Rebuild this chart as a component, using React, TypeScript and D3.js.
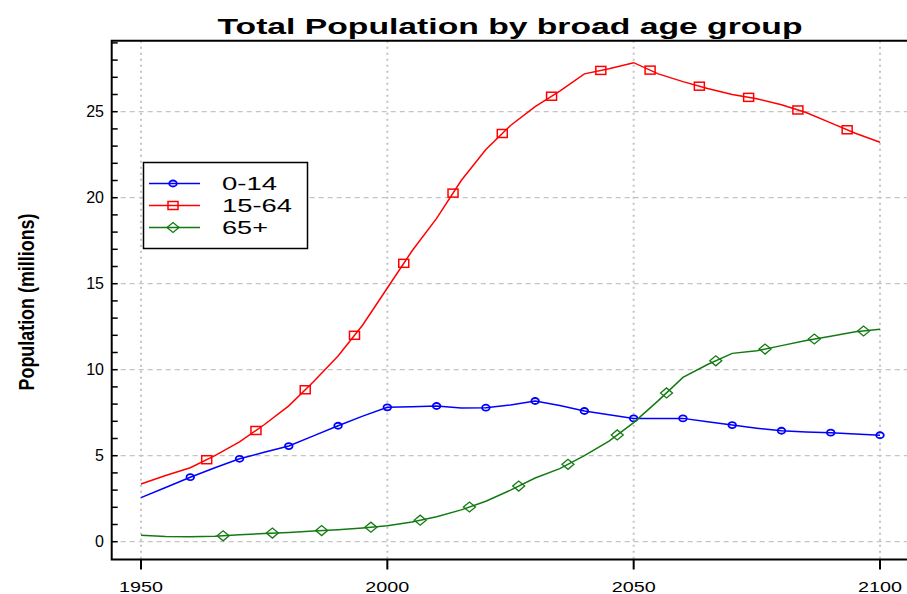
import React from "react";
import * as d3 from "d3";

// population (millions), UN style projections at 5 year steps
const years = [
  1950, 1955, 1960, 1965, 1970, 1975, 1980, 1985, 1990, 1995, 2000, 2005, 2010,
  2015, 2020, 2025, 2030, 2035, 2040, 2045, 2050, 2055, 2060, 2065, 2070, 2075,
  2080, 2085, 2090, 2095, 2100,
];
const age0to14 = [
  2.56, 3.15, 3.75, 4.3, 4.82, 5.2, 5.56, 6.15, 6.74, 7.3, 7.81, 7.85, 7.89,
  7.78, 7.79, 7.95, 8.18, 7.92, 7.6, 7.38, 7.17, 7.17, 7.17, 6.98, 6.78, 6.6,
  6.45, 6.38, 6.34, 6.26, 6.19,
];
const age15to64 = [
  3.35, 3.85, 4.3, 5.0, 5.8, 6.8, 7.9, 9.3, 10.8, 12.6, 14.75, 16.9, 18.8,
  21.0, 22.8, 24.2, 25.3, 26.2, 27.2, 27.5, 27.85, 27.2, 26.75, 26.35, 26.0,
  25.75, 25.4, 24.95, 24.35, 23.75, 23.22,
];
const age65plus = [
  0.37, 0.3, 0.29, 0.31, 0.4, 0.48, 0.54, 0.62, 0.7, 0.8, 0.93, 1.15, 1.45,
  1.85, 2.35, 3.0, 3.7, 4.25, 5.0, 5.85, 6.92, 8.2, 9.55, 10.3, 10.95, 11.1,
  11.4, 11.7, 11.95, 12.2, 12.35,
];

const seriesNames = ["0-14", "15-64", "65+"];
const seriesColors = ["#0000ff", "#ff0000", "#137a13"];
const markerOffsets = [0, 10 / 3, 20 / 3]; // symbols staggered along each line

const xTicks = [1950, 2000, 2050, 2100];
const yTicks = [0, 5, 10, 15, 20, 25];

const W = 907;
const H = 594;
const box = { left: 111.7, top: 40.7, bottom: 559.5 };

const x = d3.scaleLinear().domain([1950, 2100]).range([141, 880]);
const y = d3.scaleLinear().domain([0, 25]).range([541.7, 111.7]);

const FONT = "'Liberation Sans', Arial, sans-serif";

function Marker({ i, cx, cy, color }: { i: number; cx: number; cy: number; color: string }) {
  if (i === 0)
    return <ellipse cx={cx} cy={cy} rx={3.8} ry={3} fill="none" stroke={color} strokeWidth={1.8} />;
  if (i === 1)
    return <rect x={cx - 5} y={cy - 4} width={10} height={8} fill="none" stroke={color} strokeWidth={1.5} />;
  return (
    <path
      d={`M${cx - 6},${cy} L${cx},${cy - 5} L${cx + 6},${cy} L${cx},${cy + 5} Z`}
      fill="none"
      stroke={color}
      strokeWidth={1.3}
    />
  );
}

const App = () => {
  const allSeries = [age0to14, age15to64, age65plus];
  const line = d3
    .line<number>()
    .x((_, i) => x(years[i]))
    .y((d) => y(d));

  const minorTicks = d3.range(0, 30);

  return (
    <svg
      width={W}
      height={H}
      style={{ position: "absolute", left: 0, top: 0, background: "#fff" }}
    >
      <rect width={W} height={H} fill="#fff" />
      {/* grid */}
      {yTicks.map((t) => (
        <line
          key={"gy" + t}
          x1={box.left}
          x2={W + 20}
          y1={y(t)}
          y2={y(t)}
          stroke="#c4c4c4"
          strokeWidth={1.2}
          strokeDasharray="5,4"
        />
      ))}
      {xTicks.map((t) => (
        <line
          key={"gx" + t}
          x1={x(t)}
          x2={x(t)}
          y1={box.top}
          y2={box.bottom}
          stroke="#c4c4c4"
          strokeWidth={2}
          strokeDasharray="2,4"
        />
      ))}

      {/* series */}
      {allSeries.map((s, si) => {
        const interp = (yr: number) => {
          const j = Math.min(Math.floor((yr - 1950) / 5), years.length - 2);
          const f = (yr - years[j]) / 5;
          return s[j] + (s[j + 1] - s[j]) * f;
        };
        const mYears = d3.range(1960 + markerOffsets[si], 2100.01, 10);
        return (
          <g key={si}>
            <path d={line(s) || ""} fill="none" stroke={seriesColors[si]} strokeWidth={1.5} />
            {mYears.map((yr) => (
              <Marker key={yr} i={si} cx={x(yr)} cy={y(interp(yr))} color={seriesColors[si]} />
            ))}
          </g>
        );
      })}

      {/* frame */}
      <path
        d={`M${W + 10},${box.top} L${box.left},${box.top} L${box.left},${box.bottom} L${W + 10},${box.bottom}`}
        fill="none"
        stroke="#000"
        strokeWidth={2}
      />
      {minorTicks.map((t) => (
        <line key={"mt" + t} x1={box.left} x2={box.left + 6} y1={y(t)} y2={y(t)} stroke="#000" strokeWidth={1.5} />
      ))}
      {xTicks.map((t) => (
        <g key={"xt" + t}>
          <line x1={x(t)} x2={x(t)} y1={box.bottom} y2={box.bottom + 10} stroke="#000" strokeWidth={2} />
          <text
            x={x(t)}
            y={592}
            textAnchor="middle"
            fontFamily={FONT}
            fontSize={15}
            textLength={44}
            lengthAdjust="spacingAndGlyphs"
          >
            {t}
          </text>
        </g>
      ))}
      {yTicks.map((t) => (
        <text
          key={"yl" + t}
          x={104}
          y={y(t) + 5.5}
          textAnchor="end"
          fontFamily={FONT}
          fontSize={16}
        >
          {t}
        </text>
      ))}

      {/* title */}
      <text
        x={510}
        y={34}
        textAnchor="middle"
        fontFamily={FONT}
        fontWeight="bold"
        fontSize={22}
        textLength={585}
        lengthAdjust="spacingAndGlyphs"
      >
        Total Population by broad age group
      </text>
      <text
        transform="translate(34,302) scale(1.35,1) rotate(-90)"
        textAnchor="middle"
        fontFamily={FONT}
        fontWeight="bold"
        fontSize={17}
        textLength={177}
        lengthAdjust="spacingAndGlyphs"
      >
        Population (millions)
      </text>

      {/* legend */}
      <rect x={143.5} y={162.5} width={164} height={86} fill="#fff" stroke="#000" strokeWidth={1.5} />
      {seriesNames.map((n, i) => {
        const ly = 183.5 + i * 22;
        const widths = [55, 70, 46];
        return (
          <g key={n}>
            <line x1={149} x2={200} y1={ly} y2={ly} stroke={seriesColors[i]} strokeWidth={1.5} />
            <Marker i={i} cx={173} cy={ly} color={seriesColors[i]} />
            <text
              x={222}
              y={ly + 6.5}
              fontFamily={FONT}
              fontSize={18}
              textLength={widths[i]}
              lengthAdjust="spacingAndGlyphs"
            >
              {n}
            </text>
          </g>
        );
      })}
    </svg>
  );
};

export default App;
